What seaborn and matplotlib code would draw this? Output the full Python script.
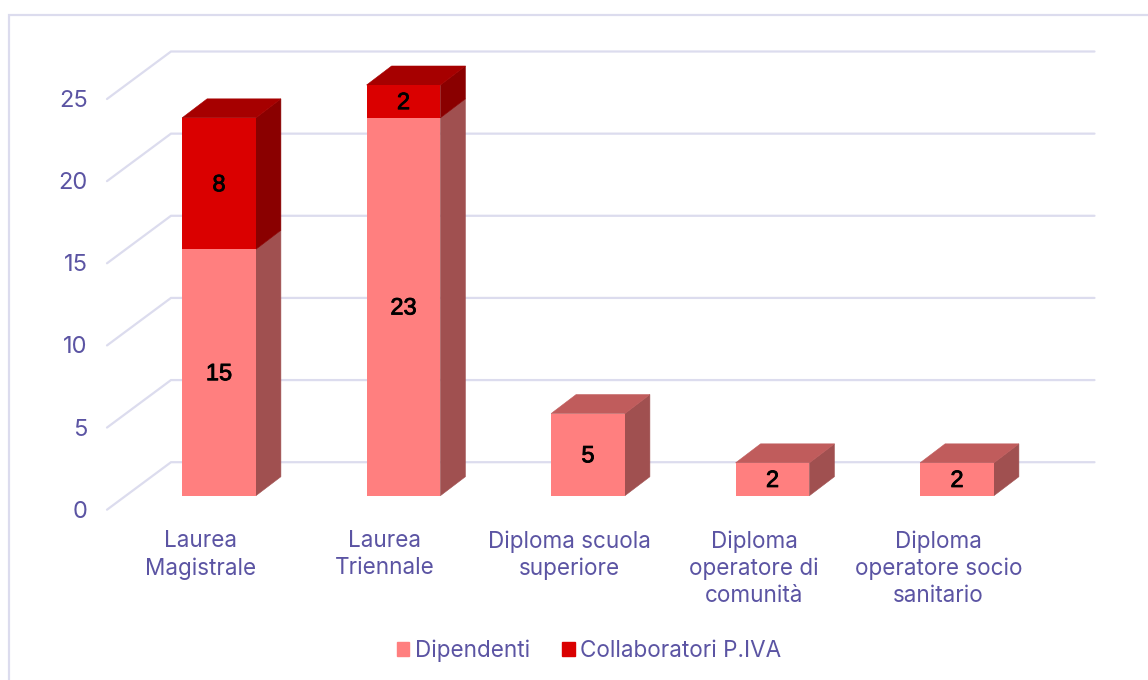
import matplotlib
matplotlib.use('Agg')
import matplotlib.pyplot as plt
import matplotlib.patheffects as pe
from matplotlib.lines import Line2D
from matplotlib.patches import Patch, Polygon
from matplotlib.transforms import ScaledTranslation
import seaborn as sns

categories = ['Laurea\nMagistrale', 'Laurea\nTriennale', 'Diploma scuola\nsuperiore',
              'Diploma\noperatore di\ncomunità', 'Diploma\noperatore socio\nsanitario']
dipendenti = [15, 23, 5, 2, 2]
collaboratori = [8, 2, 0, 0, 0]
y_ticks = [0, 5, 10, 15, 20, 25]
series_names = ['Dipendenti', 'Collaboratori P.IVA']

TEXT = '#5b54a3'
GRID = '#dcdcee'
PINK = ('#ff7f7f', '#a05050', '#c05c5c')
RED = ('#da0000', '#8a0000', '#a60000')

W, H = 1148, 680
sns.set_theme(style='white')
plt.rcParams['font.family'] = ['Inter', 'DejaVu Sans']

fig = plt.figure(figsize=(W / 100, H / 100), dpi=100)
# axes box runs from value 0 to 25 of the bar fronts, in pixels
left, right, bottom, top = 107, 1094.5, 495.7, 85
ax = fig.add_axes([left / W, 1 - bottom / H, (right - left) / W, (bottom - top) / H])

sns.barplot(x=categories, y=dipendenti, color=PINK[0], saturation=1, width=0.4, ax=ax,
            linewidth=0, zorder=3)
sns.barplot(x=categories, y=collaboratori, bottom=dipendenti, color=RED[0], saturation=1,
            width=0.4, ax=ax, linewidth=0, zorder=3)

step = 184.5
ppu = (bottom - top) / 25
x0 = (left - 219) / step
x1 = (right - 219) / step
ax.set_xlim(x0, x1)
ax.set_ylim(0, 25)
ax.set_yticks(y_ticks)
sns.despine(ax=ax, left=True, bottom=True, top=True, right=True)
ax.patch.set_visible(False)

# back wall grid, with the slanted part on the left
for v in y_ticks:
    ax.plot([x0, x0 + 64 / step, x1],
            [v - 14 / ppu, v + 33.5 / ppu, v + 33.5 / ppu],
            color=GRID, lw=1.6, clip_on=False, zorder=0.5, solid_joinstyle='miter')

# depth faces of the bars
dx, dy = 25 / step, 19 / ppu
for cont, shades, other in [(ax.containers[0], PINK, collaboratori), (ax.containers[1], RED, None)]:
    for i, bar in enumerate(cont):
        x, b, w, h = bar.get_x(), bar.get_y(), bar.get_width(), bar.get_height()
        if h == 0:
            bar.set_visible(False)
            continue
        t = b + h
        ax.add_patch(Polygon([(x + w, b), (x + w + dx, b + dy), (x + w + dx, t + dy), (x + w, t)],
                             fc=shades[1], ec=shades[1], lw=0.4, zorder=2, clip_on=False))
        if other is None or other[i] == 0:
            ax.add_patch(Polygon([(x, t), (x + dx, t + dy), (x + w + dx, t + dy), (x + w, t)],
                                 fc=shades[2], ec=shades[2], lw=0.4, zorder=2, clip_on=False))
        ax.text(x + w / 2, b + h / 2 - 1.7 / ppu, str(int(h)), ha='center', va='center', color='black',
                fontsize=17, family='Liberation Sans', zorder=4,
                path_effects=[pe.withStroke(linewidth=0.6, foreground='black')])

# tick labels sit on the front floor edge, not on the bar fronts
ax.tick_params(axis='both', length=0, colors=TEXT)
ax.tick_params(axis='y', pad=14, labelsize=17)
ax.tick_params(axis='x', pad=25, labelsize=16.2)
shift_y = ScaledTranslation(0, -13.5 / 100, fig.dpi_scale_trans)
shift_x = ScaledTranslation(-18.5 / 100, 0, fig.dpi_scale_trans)
for lab in ax.get_yticklabels():
    lab.set_transform(lab.get_transform() + shift_y)
for lab in ax.get_xticklabels():
    lab.set_transform(lab.get_transform() + shift_x)
    lab.set_linespacing(1.27)

handles = [Patch(color=PINK[0], label=series_names[0]), Patch(color=RED[0], label=series_names[1])]
fig.legend(handles=handles, loc='center', bbox_to_anchor=(589 / W, 1 - 650.5 / H), ncol=2, frameon=False,
           fontsize=16.2, labelcolor=TEXT, handlelength=0.55, handleheight=0.55, handletextpad=0.25,
           columnspacing=1.45)

# chart frame, cut off by the picture on the right and at the bottom
fig.add_artist(Line2D([9 / W, 9 / W, 1], [0, 1 - 15 / H, 1 - 15 / H], color=GRID, lw=1.6,
                      solid_joinstyle='miter'))

fig.savefig('out.png', dpi=100)
